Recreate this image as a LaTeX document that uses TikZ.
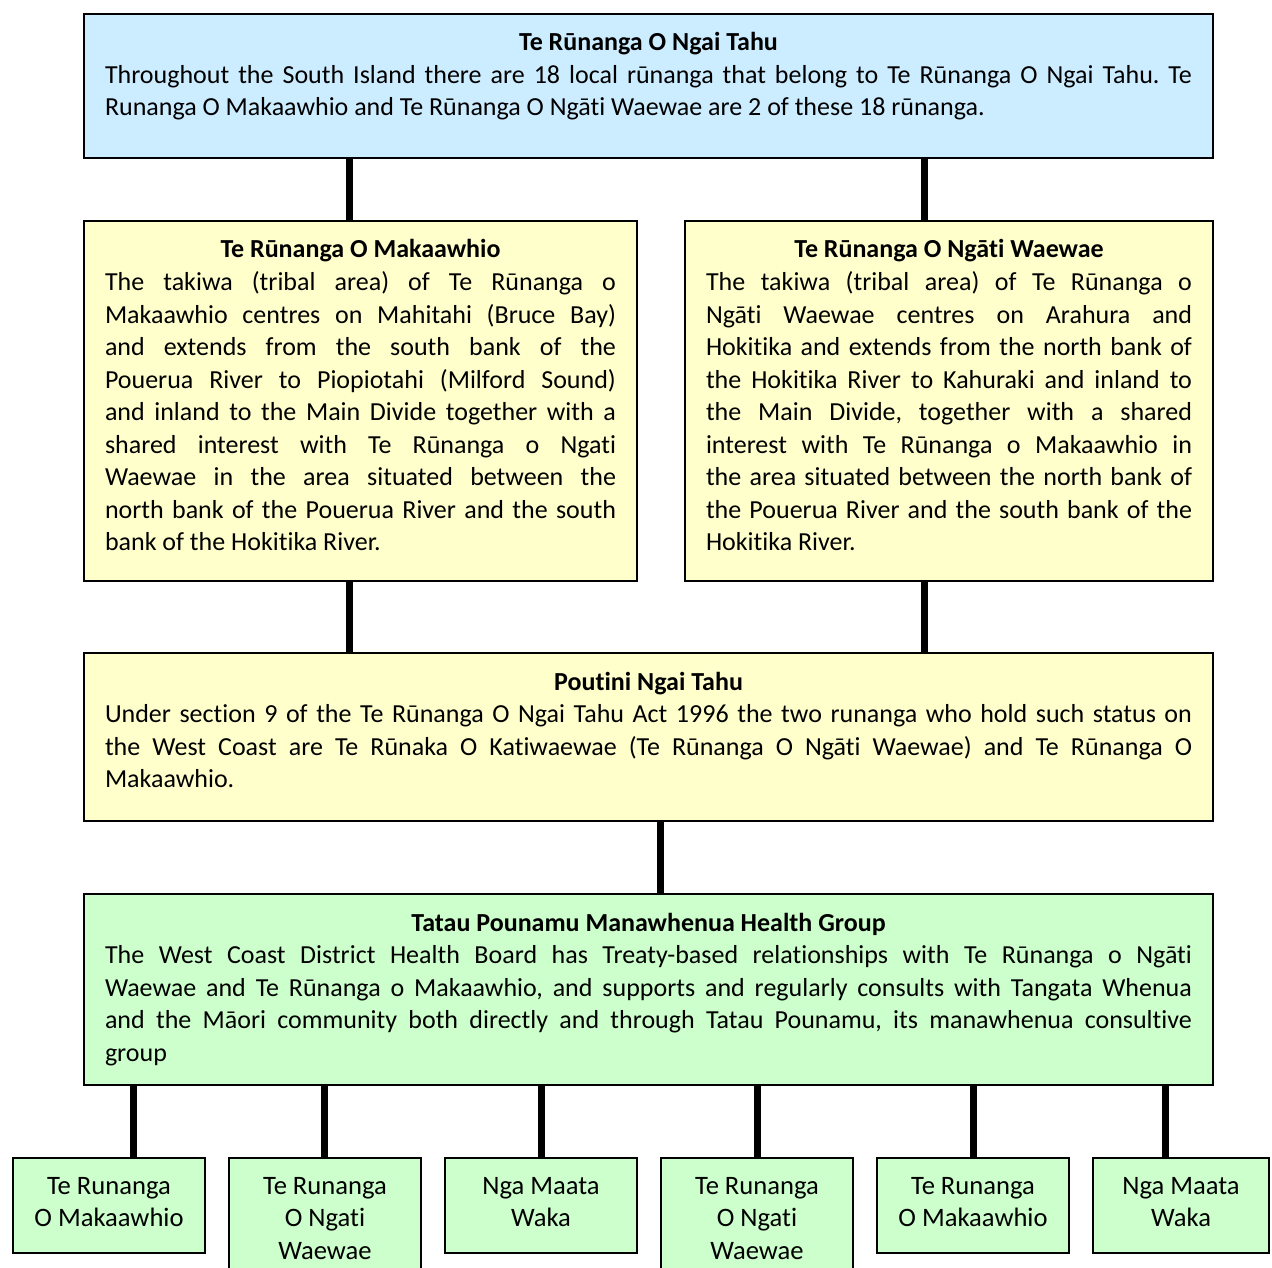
\documentclass[tikz,border=0pt]{standalone}
\usepackage{fontspec}
\setmainfont{Carlito}[Ligatures=NoCommon]
\usepackage{xcolor}
\usepackage{tikz}
\definecolor{skyfill}{HTML}{CCECFF}
\definecolor{creamfill}{HTML}{FFFFCC}
\definecolor{mintfill}{HTML}{CCFFCC}
\frenchspacing

\newcommand{\panelbody}[4]{%
  \parbox[c][#2][t]{\dimexpr#1-21pt\relax}{%
    \fontsize{13}{16.25}\selectfont
    \tolerance=10000 \hyphenpenalty=10000 \parindent=0pt
    {\centering\rule{0pt}{18.5pt}\textbf{#3}\par}#4}}
\newcommand{\tagbody}[3]{%
  \parbox[c][#2][t]{\dimexpr#1-4pt\relax}{%
    \fontsize{13.3}{16.25}\selectfont\centering
    \rule{0pt}{18pt}#3}}

\begin{document}
\begin{tikzpicture}[x=0.5pt,y=-0.5pt,
    panel/.style={draw=black,line width=1pt,anchor=north west,inner xsep=10.5pt,inner ysep=0pt},
    tag/.style={draw=black,line width=1pt,anchor=north west,fill=mintfill,inner xsep=2pt,inner ysep=0pt},
    link/.style={line width=3.5pt}]
  \useasboundingbox (0,0) rectangle (1272,1267);
  \node[panel,fill=skyfill] (ngaitahu) at (83,13) {\panelbody{564.5pt}{72pt}{Te Rūnanga O Ngai Tahu}{%
    Throughout the South Island there are 18 local rūnanga that belong to Te Rūnanga O Ngai Tahu. Te\linebreak
    Runanga O Makaawhio and Te Rūnanga O Ngāti Waewae are 2 of these 18 rūnanga.}};
  \node[panel,fill=creamfill] (makaawhio) at (83,220) {\panelbody{276.5pt}{180pt}{Te Rūnanga O Makaawhio}{%
    The takiwa (tribal area) of Te Rūnanga o\linebreak
    Makaawhio centres on Mahitahi (Bruce Bay)\linebreak
    and extends from the south bank of the\linebreak
    Pouerua River to Piopiotahi (Milford Sound)\linebreak
    and inland to the Main Divide together with a\linebreak
    shared interest with Te Rūnanga o Ngati\linebreak
    Waewae in the area situated between the\linebreak
    north bank of the Pouerua River and the south\linebreak
    bank of the Hokitika River.}};
  \node[panel,fill=creamfill] (waewae) at (684,220) {\panelbody{264pt}{180pt}{Te Rūnanga O Ngāti Waewae}{%
    The takiwa (tribal area) of Te Rūnanga o\linebreak
    Ngāti Waewae centres on Arahura and\linebreak
    Hokitika and extends from the north bank of\linebreak
    the Hokitika River to Kahuraki and inland to\linebreak
    the Main Divide, together with a shared\linebreak
    interest with Te Rūnanga o Makaawhio in\linebreak
    the area situated between the north bank of\linebreak
    the Pouerua River and the south bank of the\linebreak
    Hokitika River.}};
  \node[panel,fill=creamfill] (poutini) at (83,652) {\panelbody{564.5pt}{84pt}{Poutini Ngai Tahu}{%
    Under section 9 of the Te Rūnanga O Ngai Tahu Act 1996 the two runanga who hold such status on\linebreak
    the West Coast are Te Rūnaka O Katiwaewae (Te Rūnanga O Ngāti Waewae) and Te Rūnanga O\linebreak
    Makaawhio.}};
  \node[panel,fill=mintfill] (tatau) at (83,893) {\panelbody{564.5pt}{95.5pt}{Tatau Pounamu Manawhenua Health Group}{%
    The West Coast District Health Board has Treaty-based relationships with Te Rūnanga o Ngāti\linebreak
    Waewae and Te Rūnanga o Makaawhio, and supports and regularly consults with Tangata Whenua\linebreak
    and the Māori community both directly and through Tatau Pounamu, its manawhenua consultive\linebreak
    group}};
  \node[tag] (tag1) at (12,1157) {\tagbody{96pt}{47.5pt}{Te Runanga\\O Makaawhio}};
  \node[tag] (tag2) at (228,1157) {\tagbody{96pt}{64pt}{Te Runanga\\O Ngati\\Waewae}};
  \node[tag] (tag3) at (444,1157) {\tagbody{96pt}{47.5pt}{Nga Maata\\Waka}};
  \node[tag] (tag4) at (660,1157) {\tagbody{96pt}{64pt}{Te Runanga\\O Ngati\\Waewae}};
  \node[tag] (tag5) at (876,1157) {\tagbody{96pt}{47.5pt}{Te Runanga\\O Makaawhio}};
  \node[tag] (tag6) at (1092,1157) {\tagbody{88pt}{47.5pt}{Nga Maata\\Waka}};
  \draw[link] ([xshift=-5.75pt]makaawhio.north) -- ([xshift=-5.75pt]makaawhio.north |- ngaitahu.south);
  \draw[link] ([xshift=-12.5pt]waewae.north) -- ([xshift=-12.5pt]waewae.north |- ngaitahu.south);
  \draw[link] ([xshift=-5.75pt]makaawhio.south) -- ([xshift=-5.75pt]makaawhio.south |- poutini.north);
  \draw[link] ([xshift=-12.5pt]waewae.south) -- ([xshift=-12.5pt]waewae.south |- poutini.north);
  \draw[link] ([xshift=5.75pt]poutini.south) -- ([xshift=5.75pt]poutini.south |- tatau.north);
  \foreach \t/\s in {tag1/12pt,tag2/-0.5pt,tag3/0pt,tag4/0pt,tag5/0pt,tag6/-8pt}
    \draw[link] ([xshift=\s]\t.north) -- ([xshift=\s]\t.north |- tatau.south);
\end{tikzpicture}
\end{document}
